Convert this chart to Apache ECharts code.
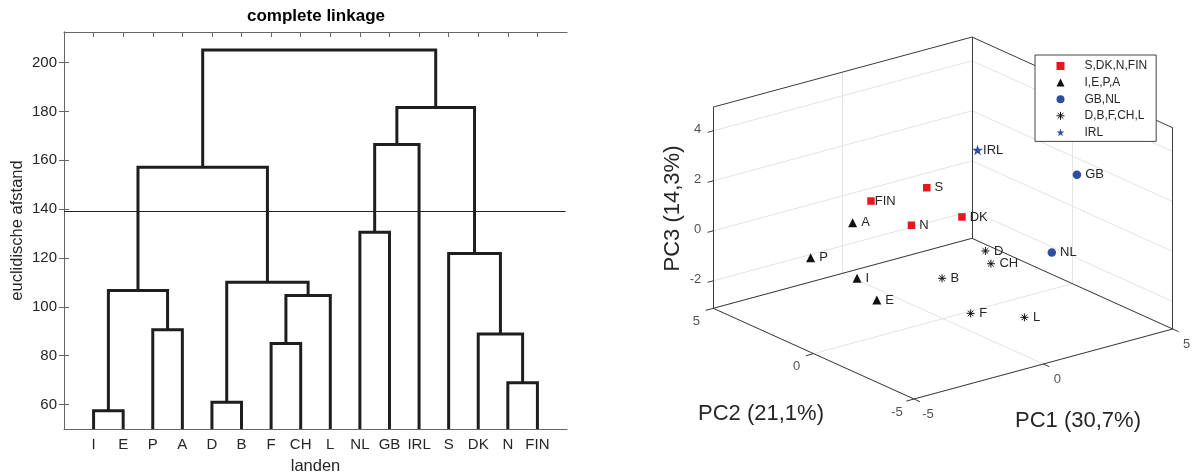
<!DOCTYPE html>
<html>
<head>
<meta charset="utf-8">
<script src="https://cdn.jsdelivr.net/npm/echarts@6/dist/echarts.min.js"></script>
<style>
  html, body { margin: 0; padding: 0; background: #fff; }
  #chart { width: 1193px; height: 475px; }
</style>
</head>
<body>
<div id="chart"></div>
<script>
// ---- dendrogram (complete linkage) ----
const leaves = ['I', 'E', 'P', 'A', 'D', 'B', 'F', 'CH', 'L', 'NL', 'GB', 'IRL', 'S', 'DK', 'N', 'FIN'];
// node ids 0..15 are the leaves, every merge adds a new node (16, 17, ...)
const linkA = [0, 4, 14, 6, 13, 2, 19, 16, 17, 12, 9, 23, 26, 28, 27];
const linkB = [1, 5, 15, 7, 18, 3, 8, 21, 22, 20, 10, 24, 11, 25, 29];
const linkHeight = [57.5, 61, 68.9, 85, 88.9, 90.6, 104.6, 106.7, 110.1, 121.8, 130.5, 157.1, 166.5, 181.6, 205.1];
const cutHeight = 139;
const yTicks = [60, 80, 100, 120, 140, 160, 180, 200];

// ---- PCA scores ----
const countries = ['S', 'DK', 'N', 'FIN', 'I', 'E', 'P', 'A', 'GB', 'NL', 'D', 'B', 'F', 'CH', 'L', 'IRL'];
const pc1 = [0.46, 0.95, -0.18, -1.20, -1.39, -1.27, -2.75, -1.60, 3.85, 3.36, 1.57, 0.53, 0.55, 1.69, 1.37, 1.70];
const pc2 = [1.40, 0.28, 1.34, 2.04, 2.49, 1.66, 3.05, 2.44, -1.71, -1.09, -0.09, 0.73, -0.67, -0.21, -2.29, 0.47];
const pc3 = [1.5, 0.6, 0.2, 1.2, -2.0, -2.6, -1.0, 0.3, 2.2, -1.0, -0.8, -1.9, -2.8, -1.3, -2.6, 3.0];
const groupOf = [0, 0, 0, 0, 1, 1, 1, 1, 2, 2, 3, 3, 3, 3, 3, 4];
const groupNames = ['S,DK,N,FIN', 'I,E,P,A', 'GB,NL', 'D,B,F,CH,L', 'IRL'];
const pcTicks = [-5, 0, 5];
const pc3Ticks = [-2, 0, 2, 4];

const FONT = 'Liberation Sans, Arial, Helvetica, sans-serif';
const TXT = '#262626';

// dendrogram links
const nodeX = leaves.map((_, i) => i + 1);
const nodeH = leaves.map(() => 50);
const linkCoords = [];
linkA.forEach((a, k) => {
  const b = linkB[k], h = linkHeight[k];
  linkCoords.push({ coords: [[nodeX[a], nodeH[a]], [nodeX[a], h], [nodeX[b], h], [nodeX[b], nodeH[b]]] });
  nodeX.push((nodeX[a] + nodeX[b]) / 2);
  nodeH.push(h);
});
const leafPos = leaves.map((_, i) => i + 1);

// 3d view -> 2d plane (unit vectors of the data axes on screen)
const box = { x: [-5, 5], y: [-5, 5], z: [-3.1, 4.95] };
const dirX = [25.87, 7.0], dirY = [-20.07, 9.07], dirZ = [0, 25];
function proj(x, y, z) {
  return [dirX[0] * x + dirY[0] * y + dirZ[0] * z, dirX[1] * x + dirY[1] * y + dirZ[1] * z];
}
const [x0, x1] = box.x, [y0, y1] = box.y, [z0, z1] = box.z;
const seg = (a, b) => ({ coords: [proj(...a), proj(...b)] });

const edges = [
  seg([x0, y1, z0], [x0, y1, z1]), seg([x1, y1, z0], [x1, y1, z1]), seg([x1, y0, z0], [x1, y0, z1]),
  seg([x0, y1, z1], [x1, y1, z1]), seg([x1, y1, z1], [x1, y0, z1]),
  seg([x0, y1, z0], [x0, y0, z0]), seg([x0, y0, z0], [x1, y0, z0]),
  seg([x1, y0, z0], [x1, y1, z0]), seg([x1, y1, z0], [x0, y1, z0])
];
const gridLines = [];
pc3Ticks.forEach(z => {
  gridLines.push(seg([x0, y1, z], [x1, y1, z]), seg([x1, y1, z], [x1, y0, z]));
});
pcTicks.forEach(t => {
  gridLines.push(seg([t, y1, z0], [t, y1, z1]), seg([t, y0, z0], [t, y1, z0]));
  gridLines.push(seg([x1, t, z0], [x1, t, z1]), seg([x0, t, z0], [x1, t, z0]));
});
const tickMarks = [];
pc3Ticks.forEach(z => tickMarks.push(seg([x0, y1, z], [x0 - 0.22, y1, z])));
pcTicks.forEach(t => {
  tickMarks.push(seg([x0, t, z0], [x0 - 0.3, t, z0]));
  tickMarks.push(seg([t, y0, z0], [t, y0 - 0.3, z0]));
});

const asterisk = 'path://M0,-1L0,1M-1,0L1,0M-0.7,-0.7L0.7,0.7M-0.7,0.7L0.7,-0.7';
const star = 'path://M0,-1L0.2245,-0.309L0.951,-0.309L0.363,0.118L0.588,0.809L0,0.382L-0.588,0.809L-0.363,0.118L-0.951,-0.309L-0.2245,-0.309Z';
const groupStyle = [
  { symbol: 'rect', size: 7.5, color: '#e8161e' },
  { symbol: 'triangle', size: 9, color: '#111111' },
  { symbol: 'circle', size: 8.5, color: '#2d4fa0' },
  { symbol: asterisk, size: 8, color: '#111111', stroke: true },
  { symbol: star, size: 11, color: '#2d4fa0' }
];
const tightLabels = ['FIN', 'IRL'];

const pointSeries = groupNames.map((g, gi) => {
  const st = groupStyle[gi];
  const data = [];
  countries.forEach((c, i) => {
    if (groupOf[i] !== gi) return;
    const item = { name: c, value: proj(pc1[i], pc2[i], pc3[i]) };
    if (tightLabels.includes(c)) item.label = { distance: 0 };
    data.push(item);
  });
  return {
    type: 'scatter', name: g, xAxisIndex: 2, yAxisIndex: 2,
    symbol: st.symbol, symbolSize: st.size, symbolKeepAspect: true,
    itemStyle: st.stroke
      ? { color: st.color, borderColor: st.color, borderWidth: 1, opacity: 1 }
      : { color: st.color, opacity: 1 },
    label: { show: true, position: 'right', distance: 4, formatter: '{b}', fontSize: 13, color: TXT, fontFamily: FONT },
    data, silent: true, z: 5
  };
});

function tickLabelSeries(points, offset, align) {
  return {
    type: 'scatter', xAxisIndex: 2, yAxisIndex: 2, symbolSize: 1,
    itemStyle: { color: 'rgba(0,0,0,0)' }, silent: true,
    label: { show: true, position: 'inside', offset, align, verticalAlign: 'middle', formatter: '{b}',
      fontSize: 13, color: TXT, fontFamily: FONT },
    data: points
  };
}

const chart = echarts.init(document.getElementById('chart'));
chart.setOption({
  animation: false,
  backgroundColor: '#fff',
  textStyle: { fontFamily: FONT },
  grid: [
    { left: 64, top: 32, width: 503, height: 397, outerBoundsMode: 'none' },
    { left: 600, top: 0, width: 593, height: 475, outerBoundsMode: 'none' }
  ],
  xAxis: [
    {
      type: 'value', gridIndex: 0, min: 0, max: 17, position: 'bottom',
      axisLine: { lineStyle: { color: '#666', width: 1 } },
      axisTick: { inside: true, length: 5, customValues: leafPos, lineStyle: { color: '#666' } },
      axisLabel: { customValues: leafPos, formatter: v => leaves[Math.round(v) - 1] || '', fontSize: 15, color: TXT, margin: 8 },
      splitLine: { show: false },
      name: 'landen', nameLocation: 'middle', nameGap: 29,
      nameTextStyle: { fontSize: 16.5, color: TXT }
    },
    {
      type: 'value', gridIndex: 0, min: 0, max: 17, position: 'top',
      axisLine: { lineStyle: { color: '#666', width: 1 } },
      axisTick: { inside: true, length: 5, customValues: leafPos, lineStyle: { color: '#666' } },
      axisLabel: { show: false }, splitLine: { show: false }
    },
    { type: 'value', gridIndex: 1, min: -343, max: 250, show: false, splitLine: { show: false } }
  ],
  yAxis: [
    {
      type: 'value', gridIndex: 0, min: 50, max: 212.5, position: 'left',
      axisLine: { show: true, lineStyle: { color: '#666', width: 1 } },
      axisTick: { show: true, inside: true, length: 5, customValues: yTicks, lineStyle: { color: '#666' } },
      axisLabel: { customValues: yTicks, fontSize: 15, color: TXT, margin: 7 },
      splitLine: { show: false },
      name: 'euclidische afstand', nameLocation: 'middle', nameGap: 38,
      nameTextStyle: { fontSize: 16.5, color: TXT }
    },
    {
      type: 'value', gridIndex: 0, min: 50, max: 212.5, position: 'right',
      axisLine: { show: true, lineStyle: { color: '#666', width: 1 } },
      axisTick: { show: true, inside: true, length: 5, customValues: yTicks, lineStyle: { color: '#666' } },
      axisLabel: { show: false }, splitLine: { show: false }
    },
    { type: 'value', gridIndex: 1, min: -233.85, max: 241.15, show: false, splitLine: { show: false } }
  ],
  legend: {
    orient: 'vertical', left: 1035, top: 55,
    padding: [5, 9, 3, 21],
    itemWidth: 8, itemHeight: 8, itemGap: 4.6,
    backgroundColor: '#fff', borderColor: '#444', borderWidth: 1, borderRadius: 0,
    textStyle: { fontSize: 12, color: TXT, fontFamily: FONT, padding: [0, 0, 0, 15] },
    selectedMode: false,
    data: groupNames.map((g, gi) => groupStyle[gi].stroke ? { name: g, itemStyle: { borderWidth: 1 } } : { name: g })
  },
  graphic: [
    { type: 'text', x: 316, y: 16, style: { text: 'complete linkage', font: 'bold 17px ' + FONT, fill: '#000', align: 'center', verticalAlign: 'middle' } },
    { type: 'text', x: 672.5, y: 208.5, rotation: Math.PI / 2, style: { text: 'PC3 (14,3%)', font: '22px ' + FONT, fill: TXT, align: 'center', verticalAlign: 'middle' } },
    { type: 'text', x: 761, y: 414, style: { text: 'PC2 (21,1%)', font: '22px ' + FONT, fill: TXT, align: 'center', verticalAlign: 'middle' } },
    { type: 'text', x: 1078, y: 420.5, style: { text: 'PC1 (30,7%)', font: '22px ' + FONT, fill: TXT, align: 'center', verticalAlign: 'middle' } }
  ],
  series: [
    {
      type: 'lines', coordinateSystem: 'cartesian2d', xAxisIndex: 0, yAxisIndex: 0, polyline: true,
      lineStyle: { color: '#1e1e1e', width: 3, opacity: 1, join: 'miter' }, silent: true, z: 3,
      data: linkCoords
    },
    {
      type: 'lines', coordinateSystem: 'cartesian2d', xAxisIndex: 0, yAxisIndex: 0,
      lineStyle: { color: '#222', width: 1, opacity: 1 }, silent: true, z: 4,
      data: [{ coords: [[0, cutHeight], [16.95, cutHeight]] }]
    },
    {
      type: 'lines', coordinateSystem: 'cartesian2d', xAxisIndex: 2, yAxisIndex: 2,
      lineStyle: { color: '#e4e4e4', width: 1, opacity: 1 }, silent: true, z: 2,
      data: gridLines
    },
    {
      type: 'lines', coordinateSystem: 'cartesian2d', xAxisIndex: 2, yAxisIndex: 2,
      lineStyle: { color: '#3a3a3a', width: 1, opacity: 1 }, silent: true, z: 3,
      data: edges.concat(tickMarks)
    },
    ...pointSeries,
    tickLabelSeries(pcTicks.map(t => ({ name: String(t), value: proj(t, y0, z0) })), [14, 15], 'center'),
    tickLabelSeries(pcTicks.map(t => ({ name: String(t), value: proj(x0, t, z0) })), [-17, 13], 'center'),
    tickLabelSeries(pc3Ticks.map(t => ({ name: String(t), value: proj(x0, y1, t) })), [-12, -1], 'right')
  ]
});
</script>
</body>
</html>
